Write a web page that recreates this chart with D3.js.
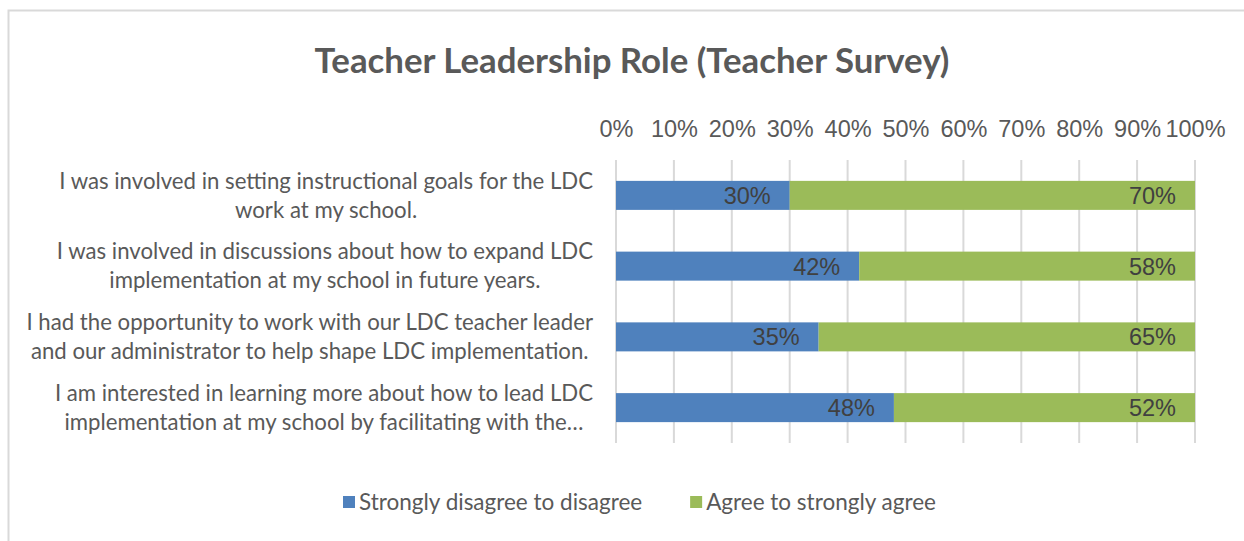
<!DOCTYPE html>
<html>
<head>
<meta charset="utf-8">
<script src="https://cdn.jsdelivr.net/npm/d3@7"></script>
<style>
  html, body { margin: 0; padding: 0; background: #fff; }
  svg { display: block; }
</style>
</head>
<body>
<svg class="chart" width="1244" height="541"></svg>
<script>
// ---- data ----
var categories = [
  ["I was involved in setting instructional goals for the LDC", "work at my school."],
  ["I was involved in discussions about how to expand LDC", "implementation at my school in future years."],
  ["I had the opportunity to work with our LDC teacher leader", "and our administrator to help shape LDC implementation."],
  ["I am interested in learning more about how to lead LDC", "implementation at my school by facilitating with the\u2026"]
];
var disagree = [30, 42, 35, 48];
var agree = [70, 58, 65, 52];
var seriesNames = ["Strongly disagree to disagree", "Agree to strongly agree"];
var seriesColors = ["#4f81bd", "#9bbb59"];
var tickValues = [0, 10, 20, 30, 40, 50, 60, 70, 80, 90, 100];

var svg = d3.select("svg.chart");
var W = 1244, H = 541;
var margin = {top: 160, right: 49, bottom: 98, left: 616};
var width = W - margin.left - margin.right,
    height = H - margin.top - margin.bottom;

var labelFont = "Lato, 'Open Sans', sans-serif";
var numFont = "'Liberation Sans', Arial, sans-serif";

// outer frame (runs off right & bottom edges like the source)
svg.append("rect")
  .attr("x", 8.5).attr("y", 10.5)
  .attr("width", W + 20).attr("height", H + 20)
  .attr("fill", "none").attr("stroke", "#d9d9d9").attr("stroke-width", 2);

// title
svg.append("text")
  .attr("x", 632).attr("y", 73)
  .attr("text-anchor", "middle")
  .attr("font-family", labelFont).attr("font-weight", "bold")
  .attr("font-size", 34.8).attr("fill", "#595959")
  .text("Teacher Leadership Role (Teacher Survey)");

var g = svg.append("g").attr("transform", "translate(" + margin.left + "," + margin.top + ")");

var x = d3.scaleLinear().domain([0, 100]).range([0, width]);
var y = d3.scaleBand().domain(d3.range(categories.length))
  .range([0, height]).paddingInner(0.59).paddingOuter(0.295);

// gridlines
g.selectAll("line.grid").data(tickValues).enter().append("line")
  .attr("class", "grid")
  .attr("x1", function(d) { return x(d); }).attr("x2", function(d) { return x(d); })
  .attr("y1", 0).attr("y2", height)
  .attr("stroke", "#d9d9d9").attr("stroke-width", 2);

// top axis labels
var axis = d3.axisTop(x).tickValues(tickValues)
  .tickFormat(function(d) { return d + "%"; }).tickSize(0).tickPadding(23);
var ax = g.append("g").call(axis);
ax.select(".domain").remove();
ax.selectAll("text")
  .attr("font-family", numFont).attr("font-size", 23.5).attr("fill", "#595959");

// stacked bars
var stacked = categories.map(function(c, i) {
  return [
    {i: i, s: 0, x0: 0, x1: disagree[i], v: disagree[i]},
    {i: i, s: 1, x0: disagree[i], x1: disagree[i] + agree[i], v: agree[i]}
  ];
});
var segs = [].concat.apply([], stacked);

g.selectAll("rect.bar").data(segs).enter().append("rect")
  .attr("class", "bar")
  .attr("x", function(d) { return x(d.x0); })
  .attr("y", function(d) { return y(d.i); })
  .attr("width", function(d) { return x(d.x1) - x(d.x0); })
  .attr("height", y.bandwidth())
  .attr("fill", function(d) { return seriesColors[d.s]; });

// value labels, inside end
g.selectAll("text.val").data(segs).enter().append("text")
  .attr("class", "val")
  .attr("x", function(d) { return x(d.x1) - 19; })
  .attr("y", function(d) { return y(d.i) + y.bandwidth() / 2; })
  .attr("dy", "0.36em")
  .attr("text-anchor", "end")
  .attr("font-family", numFont).attr("font-size", 23.5).attr("fill", "#404040")
  .text(function(d) { return d.v + "%"; });

// category labels: block right-aligned, lines centred in block
var catG = svg.append("g");
categories.forEach(function(lines, i) {
  var cy = margin.top + y(i) + y.bandwidth() / 2;
  var t = catG.append("text")
    .attr("font-family", labelFont).attr("font-size", 22.2).attr("fill", "#595959")
    .attr("text-anchor", "middle");
  lines.forEach(function(l, k) {
    t.append("tspan").attr("y", cy + (k - (lines.length - 1) / 2) * 29).attr("dy", "0.35em").text(l);
  });
  var maxW = d3.max(t.selectAll("tspan").nodes(), function(n) { return n.getComputedTextLength(); });
  t.selectAll("tspan").attr("x", 593 - maxW / 2);
});

// legend
var legend = svg.append("g").attr("transform", "translate(343,502)");
var lx = 0;
seriesNames.forEach(function(name, i) {
  var item = legend.append("g").attr("transform", "translate(" + lx + ",0)");
  item.append("rect").attr("x", 0).attr("y", -6).attr("width", 12).attr("height", 12)
    .attr("fill", seriesColors[i]);
  var t = item.append("text").attr("x", 16).attr("dy", "0.35em")
    .attr("font-family", labelFont).attr("font-size", 22.5).attr("fill", "#595959")
    .text(name);
  lx += 16 + t.node().getComputedTextLength() + 48;
});
</script>
</body>
</html>
